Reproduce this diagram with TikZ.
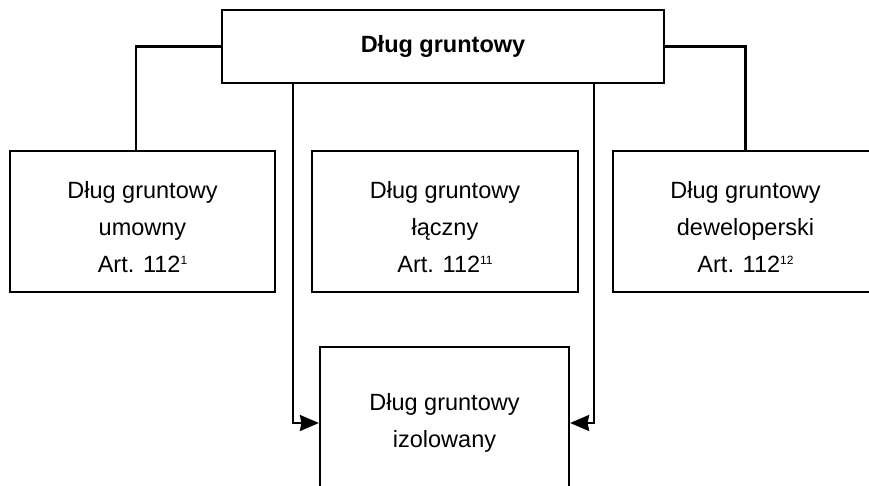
\documentclass[tikz,border=0pt]{standalone}
\usepackage{fontspec}
\setmainfont{Liberation Sans}
\usetikzlibrary{arrows.meta}

\newcommand{\artsup}[1]{\raisebox{8pt}{\fontsize{12}{12}\selectfont #1}}
\newcommand{\firstline}{\rule{0pt}{28pt}}

\tikzset{
    box/.style={draw, line width=2.2pt, align=center, inner sep=0pt,
        font=\fontsize{23.5}{37}\selectfont},
    link/.style={line width=2.2pt},
    arrow/.style={link, -{Stealth[length=19pt, width=16pt, inset=1.5pt]}}
}

\begin{document}
\begin{tikzpicture}

    % Page
    \useasboundingbox (0pt,0pt) rectangle (869pt,486pt);
    \clip (0pt,0pt) rectangle (869pt,486pt);

    % Main box
    \node[box, minimum width=442pt, minimum height=73pt,
        font=\fontsize{23.5}{37}\selectfont\bfseries] (dlug) at (443pt, 439.5pt) {Dług gruntowy};

    % Kinds
    \node[box, minimum width=265pt, minimum height=141pt] (umowny) at (142.5pt, 264.5pt)
        {\firstline Dług gruntowy\\umowny\\Art. 112\artsup{1}};
    \node[box, minimum width=266pt, minimum height=141pt] (laczny) at (445pt, 264.5pt)
        {\firstline Dług gruntowy\\łączny\\Art. 112\artsup{11}};
    \node[box, minimum width=265pt, minimum height=141pt] (deweloperski) at (745.5pt, 264.5pt)
        {\firstline Dług gruntowy\\deweloperski\\Art. 112\artsup{12}};

    % Isolated
    \node[box, minimum width=249pt, minimum height=152pt] (izolowany) at (444.5pt, 63pt)
        {Dług gruntowy\\izolowany};

    % Lines
    \draw[link] (dlug.west) -| ([xshift=-6.5pt]umowny.north);
    \draw[link] (dlug.east) -| (deweloperski.north);

    % Arrows
    \draw[arrow] ([xshift=-150pt]dlug.south) |- (izolowany.west);
    \draw[arrow] ([xshift=151pt]dlug.south) |- (izolowany.east);

\end{tikzpicture}
\end{document}
